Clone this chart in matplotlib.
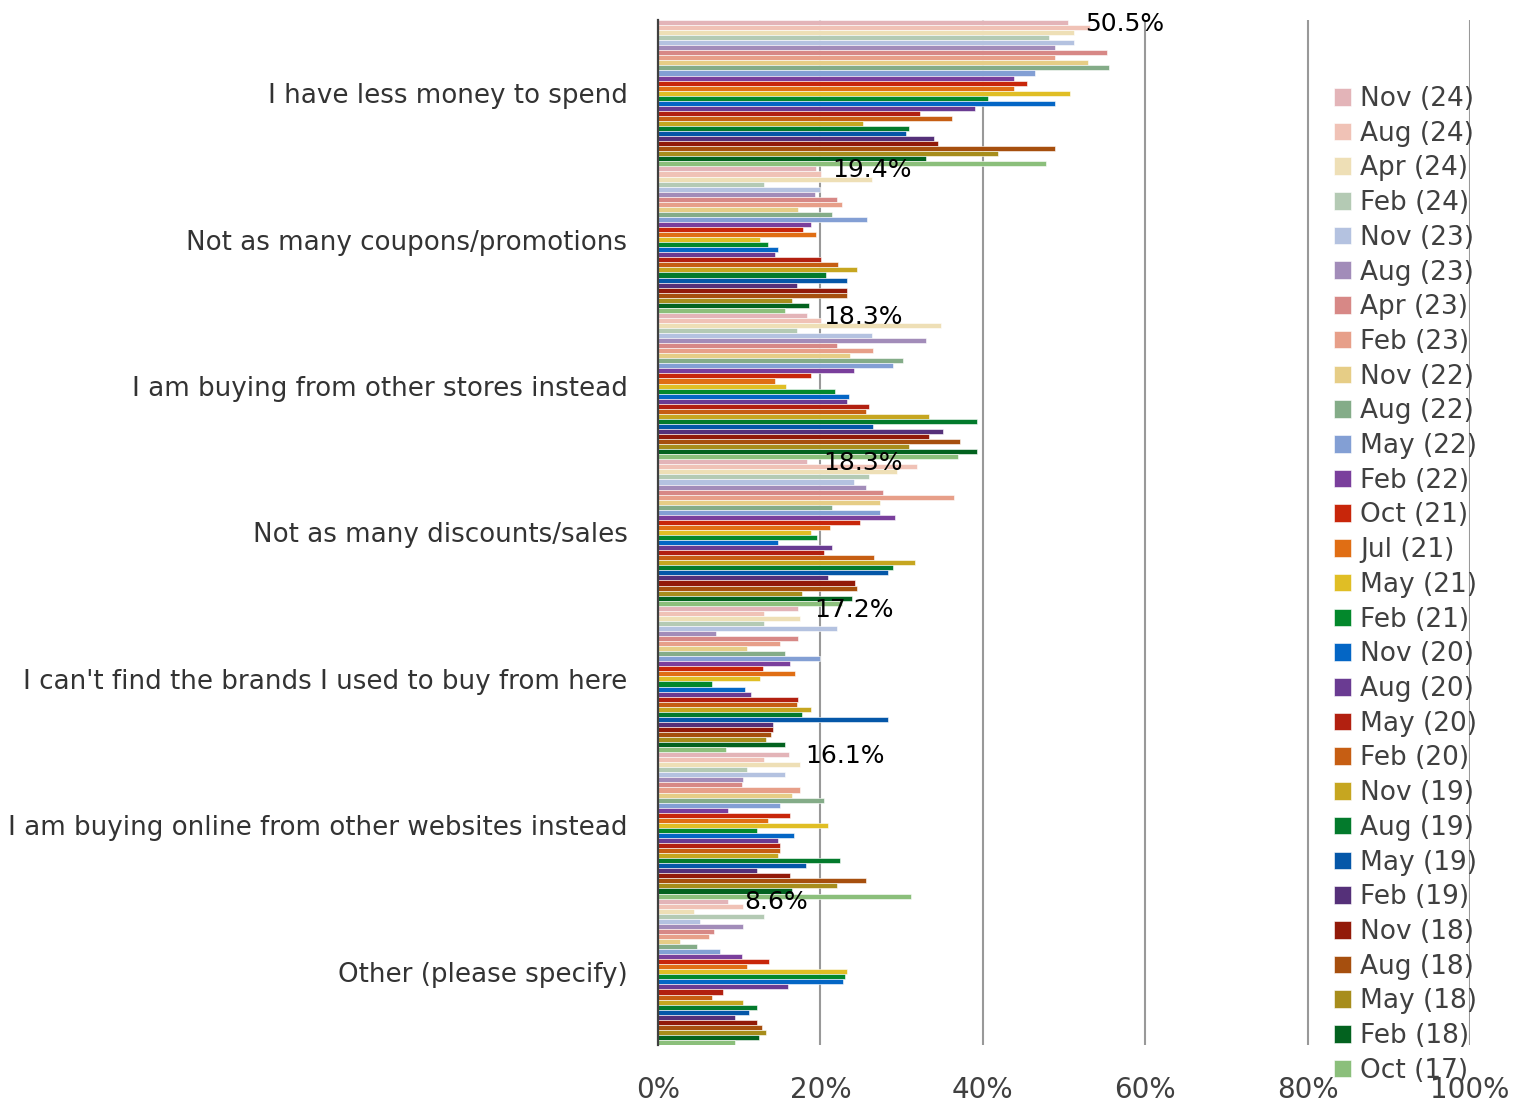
import matplotlib.pyplot as plt
import numpy as np

# Categorias (de cima para baixo)
categorias = ['I have less money to spend',
              'Not as many coupons/promotions',
              'I am buying from other stores instead',
              'Not as many discounts/sales',
              "I can't find the brands I used to buy from here",
              'I am buying online from other websites instead',
              'Other (please specify)']

# Ondas da pesquisa (ordem da legenda)
ondas = ['Nov (24)', 'Aug (24)', 'Apr (24)', 'Feb (24)', 'Nov (23)', 'Aug (23)',
         'Apr (23)', 'Feb (23)', 'Nov (22)', 'Aug (22)', 'May (22)', 'Feb (22)',
         'Oct (21)', 'Jul (21)', 'May (21)', 'Feb (21)', 'Nov (20)', 'Aug (20)',
         'May (20)', 'Feb (20)', 'Nov (19)', 'Aug (19)', 'May (19)', 'Feb (19)',
         'Nov (18)', 'Aug (18)', 'May (18)', 'Feb (18)', 'Oct (17)']

cores = ['#E3B4B8', '#F0C2B6', '#EEDFB6', '#B4CAB4', '#B4C2E0', '#A28CB9',
         '#D78886', '#E79F89', '#E6CD86', '#84AC88', '#839FD4', '#7A3F9C',
         '#C8260A', '#E06E14', '#E0BE25', '#03882C', '#0466C5', '#6A3B92',
         '#B22010', '#C65E13', '#C6A620', '#037A2C', '#0557A8', '#553079',
         '#921A09', '#A64F0E', '#A78D1C', '#03621F', '#8BBF7B']

# Valores (%) por categoria, na ordem das ondas
menos_dinheiro = [50.5, 53.2, 51.2, 48.1, 51.2, 48.9, 55.3, 48.9, 52.9, 55.5,
                  46.4, 43.8, 45.5, 43.8, 50.8, 40.6, 48.9, 39.1, 32.3, 36.2,
                  25.3, 30.9, 30.5, 34.0, 34.5, 48.9, 41.9, 33.0, 47.8]
cupons = [19.4, 20.1, 26.3, 13.1, 19.9, 19.3, 22.0, 22.6, 17.3, 21.4,
          25.8, 18.8, 17.9, 19.5, 12.6, 13.5, 14.8, 14.4, 20.1, 22.2,
          24.5, 20.7, 23.3, 17.1, 23.3, 23.3, 16.5, 18.6, 15.6]
outras_lojas = [18.3, 20.1, 34.9, 17.1, 26.3, 33.0, 22.0, 26.5, 23.7, 30.2,
                29.0, 24.1, 18.8, 14.4, 15.8, 21.8, 23.5, 23.3, 26.0, 25.6,
                33.4, 39.3, 26.5, 35.1, 33.4, 37.2, 30.9, 39.3, 37.0]
descontos = [18.3, 31.9, 29.4, 26.0, 24.1, 25.6, 27.7, 36.4, 27.3, 21.4,
             27.3, 29.2, 24.9, 21.2, 18.8, 19.6, 14.8, 21.4, 20.5, 26.6,
             31.7, 29.0, 28.3, 20.9, 24.3, 24.5, 17.7, 23.9, 22.7]
marcas = [17.2, 13.1, 17.5, 13.1, 22.0, 7.2, 17.3, 15.0, 10.9, 15.6,
          19.9, 16.3, 12.9, 16.9, 12.6, 6.7, 10.7, 11.4, 17.3, 17.1,
          18.8, 17.7, 28.3, 14.2, 14.2, 13.9, 13.3, 15.6, 8.4]
online = [16.1, 13.1, 17.5, 10.9, 15.6, 10.5, 10.3, 17.5, 16.5, 20.5,
          15.0, 8.6, 16.3, 13.5, 20.9, 12.2, 16.7, 14.8, 15.0, 15.0,
          14.8, 22.4, 18.2, 12.2, 16.3, 25.6, 22.0, 16.5, 31.1]
outro = [8.6, 10.5, 4.4, 13.1, 5.2, 10.5, 6.9, 6.3, 2.7, 4.8,
         7.6, 10.3, 13.7, 10.9, 23.3, 23.0, 22.8, 16.0, 8.0, 6.7,
         10.5, 12.2, 11.2, 9.5, 12.2, 12.8, 13.3, 12.4, 9.5]

valores = np.array([menos_dinheiro, cupons, outras_lojas, descontos,
                    marcas, online, outro])

n_ondas = len(ondas)
passo = 1.0 / n_ondas
y_base = np.arange(len(categorias))

fig = plt.figure(figsize=(15.17, 11.05), dpi=100)
ax = fig.add_axes([658 / 1517, 1 - 1045 / 1105, 812 / 1517, 1025 / 1105])

for j, onda in enumerate(ondas):
    y = y_base - 0.5 + (j + 0.5) * passo
    ax.barh(y, valores[:, j], height=passo, color=cores[j], label=onda,
            edgecolor='white', linewidth=0.4, zorder=2)

# Rótulos de dados na primeira série
for i, v in enumerate(valores[:, 0]):
    ax.annotate(f'{v}%', (v, i - 0.5 + 0.5 * passo), xytext=(12, -1),
                textcoords='offset points', va='center', ha='left',
                fontsize=18, color='black', zorder=5)

ax.set_xlim(0, 100)
ax.set_ylim(6.5, -0.5)
ax.set_xticks([0, 20, 40, 60, 80, 100])
ax.set_xticklabels(['0%', '20%', '40%', '60%', '80%', '100%'],
                   fontsize=20, color='#404040')
ax.set_yticks(y_base)
ax.set_yticklabels(categorias, fontsize=18.8, color='#333333')
ax.tick_params(axis='both', length=0)
ax.tick_params(axis='x', pad=22)
ax.tick_params(axis='y', pad=22)
ax.grid(axis='x', color='#999999', linewidth=1.5, zorder=0)
ax.set_axisbelow(True)
for lado in ['top', 'right', 'bottom']:
    ax.spines[lado].set_visible(False)
ax.spines['left'].set_color('#404040')
ax.spines['left'].set_linewidth(1.6)
ax.spines['left'].set_zorder(3)

handles, labels = ax.get_legend_handles_labels()
fig.legend(handles, labels, loc='upper left',
           bbox_to_anchor=(1334 / 1517, 1 - 86 / 1105), frameon=False,
           fontsize=19, labelcolor='#404040', handlelength=0.65,
           handleheight=0.65, handletextpad=0.35, labelspacing=0.33,
           borderpad=0, borderaxespad=0)

plt.savefig('out.png', dpi=100)
